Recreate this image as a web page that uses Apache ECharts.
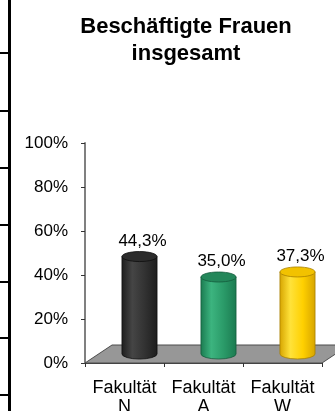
<!DOCTYPE html>
<html>
<head>
<meta charset="utf-8">
<script src="https://cdn.jsdelivr.net/npm/echarts@6/dist/echarts.min.js"></script>
<style>
  html, body { margin: 0; padding: 0; background: #fff; }
  #chart { width: 335px; height: 411px; }
</style>
</head>
<body>
<div id="chart"></div>
<script>
// Share of women among all employees, per faculty
const categories = ['Fakultät\nN', 'Fakultät\nA', 'Fakultät\nW'];
const shares = [44.3, 35.0, 37.3];
const yTicks = [0, 20, 40, 60, 80, 100];

// Cylinder colours: [edge, highlight, mid, top face, outline]
const palette = [
  ['#1d1d1d', '#454545', '#323232', '#2c2c2c', '#0e0e0e'],
  ['#1b7a50', '#3cb47f', '#2a9a68', '#23875a', '#145c3c'],
  ['#d6a400', '#ffe23a', '#ffd000', '#f2c200', '#a88000']
];

const FONT = '"Liberation Sans", Arial, sans-serif';
const DEPTH_X = 27, DEPTH_Y = 18;

const chart = echarts.init(document.getElementById('chart'), null, { renderer: 'canvas' });

function fmt(v) { return v.toFixed(1).replace('.', ',') + '%'; }

// Grey floor plane under the cylinders
function renderFloor(params, api) {
  const cs = params.coordSys;
  const x0 = cs.x, x1 = cs.x + cs.width, y0 = cs.y + cs.height;
  return {
    type: 'polygon',
    shape: { points: [[x0, y0], [x1, y0], [x1 + DEPTH_X, y0 - DEPTH_Y], [x0 + DEPTH_X, y0 - DEPTH_Y]] },
    style: { fill: '#979797', stroke: '#4d4d4d', lineWidth: 1 }
  };
}

// 3D cylinder standing on the middle of the floor depth
function renderCylinder(params, api) {
  const i = api.value(0), v = api.value(1);
  const base = api.coord([i, 0]);
  const top = api.coord([i, v]);
  const r = api.size([1, 0])[0] * 0.222;
  const ry = 5;
  const cx = base[0] + 15;
  const by = base[1] - DEPTH_Y / 2;
  const ty = top[1] - DEPTH_Y / 2;
  const c = palette[i];
  const bodyFill = {
    type: 'linear', x: 0, y: 0, x2: 1, y2: 0,
    colorStops: [
      { offset: 0, color: c[0] }, { offset: 0.3, color: c[1] },
      { offset: 0.65, color: c[2] }, { offset: 1, color: c[0] }
    ]
  };
  return {
    type: 'group',
    children: [
      {
        type: 'path',
        shape: {
          pathData: `M${cx - r},${ty} L${cx - r},${by} A${r},${ry} 0 0 0 ${cx + r},${by} L${cx + r},${ty} Z`
        },
        style: { fill: bodyFill, stroke: c[4], lineWidth: 0.8 }
      },
      {
        type: 'ellipse',
        shape: { cx: cx, cy: ty, rx: r, ry: ry },
        style: { fill: c[3], stroke: c[4], lineWidth: 0.8 }
      },
      {
        type: 'text',
        style: {
          text: fmt(v), x: cx + 3, y: ty - ry - 2,
          align: 'center', verticalAlign: 'bottom',
          font: '17px ' + FONT, fill: '#000'
        }
      }
    ]
  };
}

// Frame pieces along the left edge of the page
const frame = [{ type: 'rect', shape: { x: 8, y: 0, width: 3, height: 411 }, style: { fill: '#000' } }];
[53, 111, 168, 225, 282, 338, 395].forEach(function (y) {
  frame.push({ type: 'rect', shape: { x: 0, y: y - 1, width: 11, height: 2 }, style: { fill: '#000' } });
});

chart.setOption({
  backgroundColor: '#fff',
  animation: false,
  title: {
    text: 'Beschäftigte Frauen\ninsgesamt',
    left: 181, top: 8, textAlign: 'center',
    textStyle: { fontFamily: FONT, fontWeight: 'bold', fontSize: 22, lineHeight: 27, color: '#000' }
  },
  graphic: frame,
  grid: { left: 85, right: 13, top: 143, bottom: 48, containLabel: false, outerBoundsMode: 'none' },
  xAxis: {
    type: 'category',
    data: categories,
    axisLine: { show: true, lineStyle: { color: '#444', width: 1 } },
    axisTick: { show: true, length: 4, lineStyle: { color: '#333' } },
    axisLabel: {
      fontFamily: FONT, fontSize: 18, lineHeight: 19, color: '#000', margin: 16,
      interval: 0, hideOverlap: false
    },
    splitLine: { show: false },
    z: 5
  },
  yAxis: {
    type: 'value',
    min: yTicks[0], max: yTicks[yTicks.length - 1], interval: yTicks[1] - yTicks[0],
    axisLine: { show: true, lineStyle: { color: '#808080', width: 2 } },
    axisTick: { show: true, length: 4, lineStyle: { color: '#333' } },
    axisLabel: { fontFamily: FONT, fontSize: 17, color: '#000', margin: 17, formatter: '{value}%' },
    splitLine: { show: false }
  },
  series: [
    {
      type: 'custom',
      name: 'floor',
      renderItem: renderFloor,
      data: [[0, 0]],
      z: 1,
      silent: true
    },
    {
      type: 'custom',
      name: 'Frauenanteil',
      renderItem: renderCylinder,
      data: shares.map(function (v, i) { return [i, v]; }),
      encode: { x: 0, y: 1 },
      z: 3
    }
  ]
});
</script>
</body>
</html>
